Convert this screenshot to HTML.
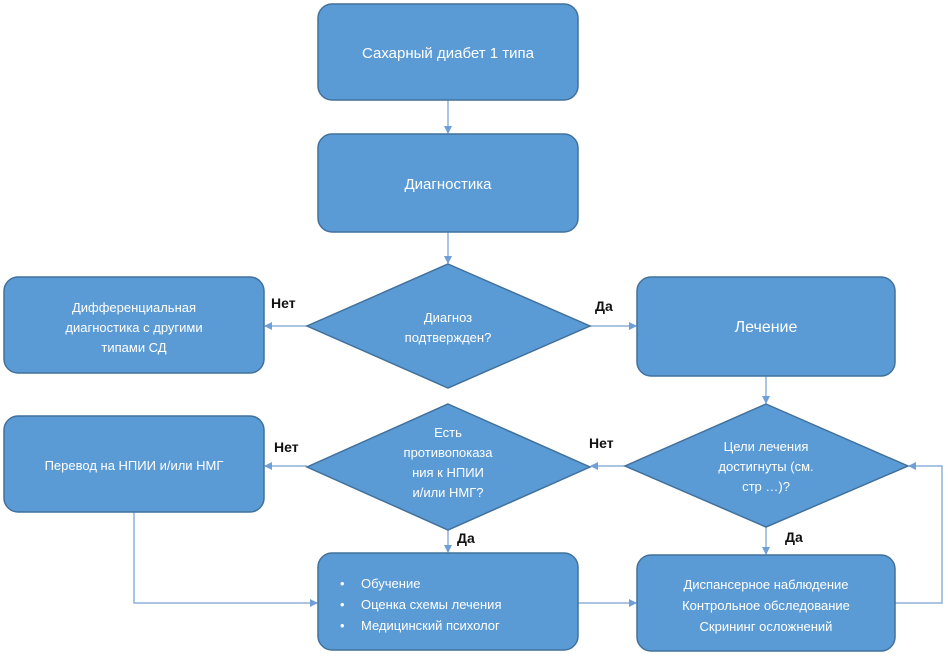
<!DOCTYPE html>
<html><head><meta charset="utf-8"><style>
html,body{margin:0;padding:0;background:#fff;}
svg{display:block;}
text{font-family:"Liberation Sans","DejaVu Sans",sans-serif;}
.w{fill:#fff;font-size:13px;text-anchor:middle;}
.b{fill:#111;font-size:14px;font-weight:bold;}
.s{fill:#5b9bd5;stroke:#41719c;stroke-width:1.5;}
.l{stroke:#8fb0d8;stroke-width:1.5;fill:none;}
</style></head><body>
<svg width="948" height="658" viewBox="0 0 948 658">
<defs><marker id="a" markerWidth="8" markerHeight="8" refX="7" refY="4" orient="auto" markerUnits="userSpaceOnUse"><path d="M0,0 L8,4 L0,8 z" fill="#6f9fd6"/></marker></defs>
<!-- connectors -->
<path class="l" d="M448,100 V133" marker-end="url(#a)"/>
<path class="l" d="M448,232 V263" marker-end="url(#a)"/>
<path class="l" d="M307,326 H265" marker-end="url(#a)"/>
<path class="l" d="M590,326 H636" marker-end="url(#a)"/>
<path class="l" d="M766,376 V403" marker-end="url(#a)"/>
<path class="l" d="M625,466 H591" marker-end="url(#a)"/>
<path class="l" d="M307,466 H265" marker-end="url(#a)"/>
<path class="l" d="M448,530 V552" marker-end="url(#a)"/>
<path class="l" d="M766,527 V554" marker-end="url(#a)"/>
<path class="l" d="M134,512 V603 H317" marker-end="url(#a)"/>
<path class="l" d="M578,603 H636" marker-end="url(#a)"/>
<path class="l" d="M895,603 H942 V466 H909" marker-end="url(#a)"/>
<!-- shapes -->
<rect class="s" x="318" y="4" width="260" height="96" rx="14"/>
<rect class="s" x="318" y="134" width="260" height="98" rx="14"/>
<polygon class="s" points="448,264 590,326 448,388 307,326"/>
<rect class="s" x="4" y="277" width="260" height="96" rx="14"/>
<rect class="s" x="637" y="277" width="258" height="99" rx="14"/>
<polygon class="s" points="448,404 590,467 448,530 307,467"/>
<polygon class="s" points="766,404 908,466 766,527 625,466"/>
<rect class="s" x="4" y="416" width="260" height="96" rx="14"/>
<rect class="s" x="318" y="553" width="260" height="97" rx="14"/>
<rect class="s" x="637" y="555" width="258" height="96" rx="14"/>
<!-- text -->
<text class="w" x="448" y="58" style="font-size:15px">Сахарный диабет 1 типа</text>
<text class="w" x="448" y="189" style="font-size:15px">Диагностика</text>
<text class="w" x="448" y="322">Диагноз</text>
<text class="w" x="448" y="342">подтвержден?</text>
<text class="w" x="134" y="312">Дифференциальная</text>
<text class="w" x="134" y="332">диагностика с другими</text>
<text class="w" x="134" y="352">типами СД</text>
<text class="w" x="766" y="332" style="font-size:16px">Лечение</text>
<text class="w" x="448" y="437">Есть</text>
<text class="w" x="448" y="457">противопоказа</text>
<text class="w" x="448" y="477">ния к НПИИ</text>
<text class="w" x="448" y="497">и/или НМГ?</text>
<text class="w" x="766" y="451">Цели лечения</text>
<text class="w" x="766" y="471">достигнуты (см.</text>
<text class="w" x="766" y="491">стр …)?</text>
<text class="w" x="134" y="470">Перевод на НПИИ и/или НМГ</text>
<text style="fill:#fff;font-size:13px" x="340" y="588">•</text>
<text style="fill:#fff;font-size:13px" x="361" y="588">Обучение</text>
<text style="fill:#fff;font-size:13px" x="340" y="609">•</text>
<text style="fill:#fff;font-size:13px" x="361" y="609">Оценка схемы лечения</text>
<text style="fill:#fff;font-size:13px" x="340" y="630">•</text>
<text style="fill:#fff;font-size:13px" x="361" y="630">Медицинский психолог</text>
<text class="w" x="766" y="589">Диспансерное наблюдение</text>
<text class="w" x="766" y="610">Контрольное обследование</text>
<text class="w" x="766" y="631">Скрининг осложнений</text>
<!-- labels -->
<text class="b" x="271" y="308">Нет</text>
<text class="b" x="595" y="311">Да</text>
<text class="b" x="274" y="452">Нет</text>
<text class="b" x="589" y="448">Нет</text>
<text class="b" x="457" y="543">Да</text>
<text class="b" x="785" y="542">Да</text>
</svg>
</body></html>
